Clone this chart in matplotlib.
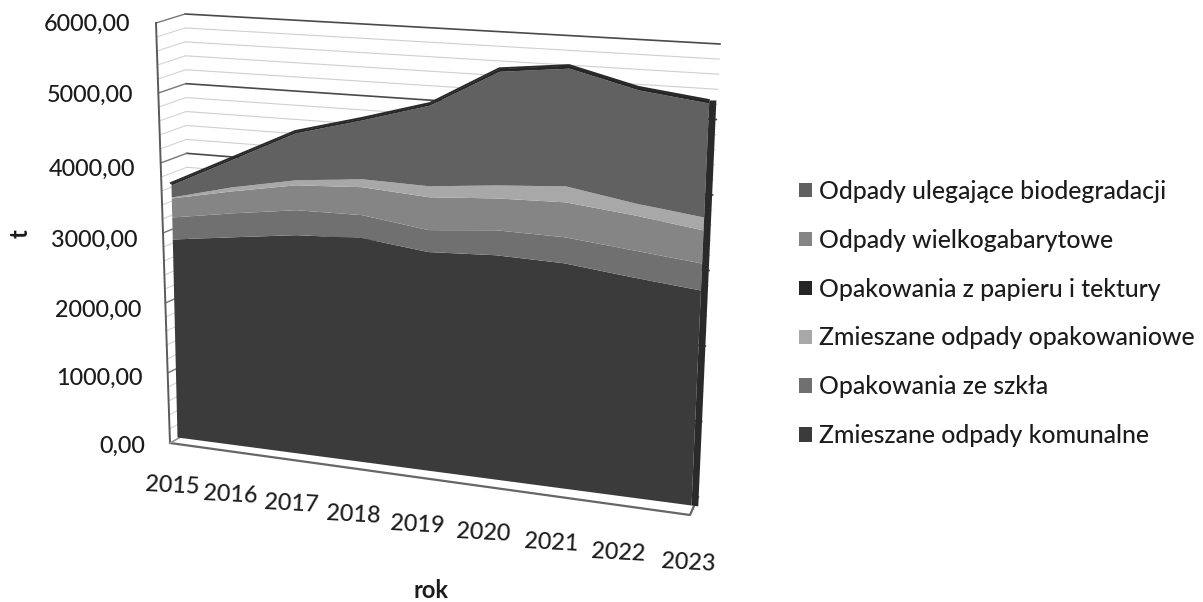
import numpy as np
import matplotlib
matplotlib.use("Agg")
import matplotlib.pyplot as plt
from matplotlib.patches import Patch
from matplotlib.transforms import Transform

plt.rcParams['font.family'] = ['Lato', 'DejaVu Sans']

# ---- data -------------------------------------------------------------
years = ['2015', '2016', '2017', '2018', '2019', '2020', '2021', '2022', '2023']
komunalne = [2955, 3026, 3095, 3092, 2940, 2938, 2875, 2740, 2622]
szklo = [329, 348, 354, 317, 295, 328, 333, 337, 329]
wielkogabarytowe = [283, 320, 353, 386, 443, 418, 447, 437, 403]
zmieszane_opak = [15, 58, 71, 110, 148, 171, 204, 150, 158]
biodegradacja = [179, 392, 664, 812, 1087, 1492, 1508, 1411, 1390]
papier = [30, 29, 28, 28, 27, 39, 39, 37, 37]
value_ticks = [0, 1000, 2000, 3000, 4000, 5000, 6000]
tick_labels = ['0,00', '1000,00', '2000,00', '3000,00', '4000,00', '5000,00', '6000,00']
legend_labels = ['Odpady ulegające biodegradacji', 'Odpady wielkogabarytowe',
                 'Opakowania z papieru i tektury', 'Zmieszane odpady opakowaniowe',
                 'Opakowania ze szkła', 'Zmieszane odpady komunalne']

# ---- styles ------------------------------------------------------------
stack_order = [komunalne, szklo, wielkogabarytowe, zmieszane_opak, biodegradacja, papier]
stack_colors = ['#3b3b3b', '#707070', '#858585', '#a8a8a8', '#616161', '#262626']
legend_colors = ['#616161', '#858585', '#262626', '#a8a8a8', '#707070', '#3b3b3b']
VMAX = 6000.0
TEXT = '#1c1c1c'


class Plane(Transform):
    """Maps (u, value) on a quadrilateral given by its pixel corners."""
    input_dims = 2
    output_dims = 2
    is_separable = False
    has_inverse = False

    def __init__(self, bl, br, tl, tr, umax, gamma=1.0):
        super().__init__()
        self.c = [np.array(p, float) for p in (bl, br, tl, tr)]
        self.umax = umax
        self.gamma = gamma

    def transform_non_affine(self, values):
        values = np.asarray(values, float)
        u = (np.maximum(values[:, 0] / self.umax, 0) ** self.gamma)[:, None]
        v = (values[:, 1] / VMAX)[:, None]
        bl, br, tl, tr = self.c
        return (1 - v) * ((1 - u) * bl + u * br) + v * ((1 - u) * tl + u * tr)


fig = plt.figure(figsize=(12.03, 6.02), dpi=100, facecolor='white')
ax = fig.add_axes([0, 0, 1, 1])
ax.set_xlim(0, 1203)
ax.set_ylim(602, 0)
ax.set_autoscale_on(False)
ax.axis('off')

front = Plane((177, 437), (691, 505), (167.4, 35), (712.6, 13), 8, gamma=1.05) + ax.transData
back = Plane((190, 432), (698, 497), (185, 14), (720, 44), 1) + ax.transData
left = Plane((170, 443), (190, 432), (156, 23), (185, 14), 1) + ax.transData
floor = Plane((170, 443), (690, 515), (190, 432), (698, 497), 1) + ax.transData

# walls / gridlines
for v in np.arange(0, 6001, 200):
    major = v % 1000 == 0
    col = '#4a4a4a' if major else '#cfcfcf'
    lw = 1.2 if major else 0.8
    ax.plot([0, 1], [v, v], color=col, lw=lw, transform=back, zorder=1)
    ax.plot([0, 1], [v, v], color='#777777' if major else '#d4d4d4',
            lw=1.0 if major else 0.8, transform=left, zorder=1)
ax.plot([0, 0], [0, 6000], color='#5a5a5a', lw=1.4, transform=left, zorder=2)

# floor
ax.fill_between([0, 1], [0, 0], [6000, 6000], color='white', lw=0, transform=floor, zorder=2)
ax.plot([0, 1, 1], [0, 0, 6000], color='#666666', lw=1.6, transform=floor, zorder=3)
ax.plot([0, 0], [0, 6000], color='#999999', lw=1.0, transform=floor, zorder=3)

# stacked areas
x = np.arange(len(years))
bottom = np.zeros(len(years))
for vals, col in zip(stack_order, stack_colors):
    top = bottom + np.array(vals, float)
    ax.fill_between(x, bottom, top, color=col, lw=0, transform=front, zorder=4)
    bottom = top
# dark side of the area at the last year
ax.fill_between([8, 8.1], [0, 0], [bottom[-1], bottom[-1]], color='#2a2a2a', lw=0,
                transform=front, zorder=4)
ax.plot(x, bottom, color='#2a2a2a', lw=1.4, transform=front, zorder=5)

# value axis labels
label_right = [145, 143, 141, 138, 135, 133, 130]
label_y = [446, 378, 310, 240, 169, 95, 24]
for lab, rx, ly in zip(tick_labels, label_right, label_y):
    ax.text(rx, ly, lab, ha='right', va='center', fontsize=16.8, color=TEXT, fontweight='medium')

# category axis labels
cat_x = [172, 230, 291, 353, 417, 483, 551, 618, 688]
cat_y = [486, 495, 504, 515, 525, 533, 543, 553, 563]
for lab, cx, cy in zip(years, cat_x, cat_y):
    ax.text(cx, cy, lab, ha='center', va='center', rotation=-3, rotation_mode='anchor',
            fontsize=16.8, color=TEXT, fontweight='medium')

ax.text(431, 591, 'rok', ha='center', va='center', fontsize=17, fontweight='bold', color=TEXT)
ax.text(20, 234, 't', ha='center', va='center', rotation=90, fontsize=17, fontweight='bold', color=TEXT)

handles = [Patch(facecolor=c, edgecolor='none') for c in legend_colors]
leg = ax.legend(handles, legend_labels, loc='center left',
                bbox_to_anchor=(799 / 1203, 1 - 313.5 / 602), bbox_transform=fig.transFigure,
                frameon=False, handlelength=0.52, handleheight=0.52,
                handletextpad=0.3, labelspacing=1.05, borderaxespad=0, borderpad=0,
                labelcolor=TEXT, prop={'size': 17.8, 'weight': 'medium'})

fig.savefig('out.png', dpi=100, facecolor='white')
